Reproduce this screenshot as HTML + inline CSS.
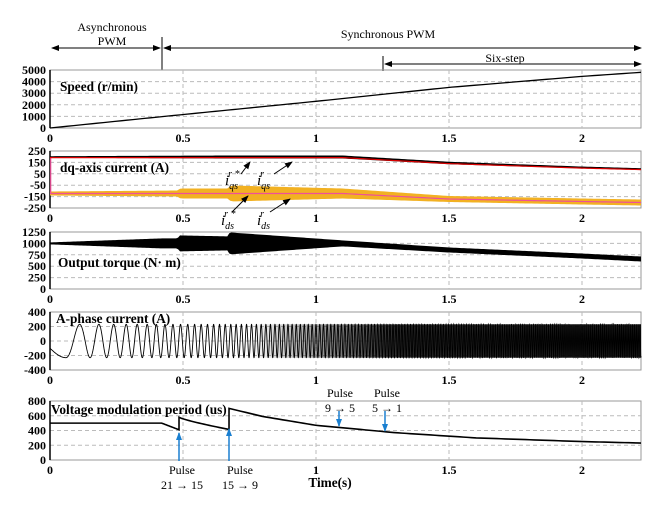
<!DOCTYPE html>
<html><head><meta charset="utf-8"><style>
body{margin:0;background:#fff}
svg{display:block}
text{font-family:"Liberation Serif",serif}
.t{font-weight:bold;font-size:12px;fill:#000}
.l{font-weight:bold;font-size:13.3px;fill:#000}
.a{font-size:12px;fill:#000}
</style></head><body>
<svg id="s" width="663" height="513" viewBox="0 0 663 513" xmlns="http://www.w3.org/2000/svg">
<defs>
<marker id="ah" markerWidth="8" markerHeight="8" refX="7" refY="4" orient="auto" markerUnits="userSpaceOnUse"><path d="M0,1 L8,4 L0,7 Z" fill="#000"/></marker>
<marker id="bh" markerWidth="8" markerHeight="8" refX="7" refY="4" orient="auto" markerUnits="userSpaceOnUse"><path d="M0,1 L8,4 L0,7 Z" fill="#1a7fd0"/></marker>
</defs>
<text class="a" x="112" y="31" text-anchor="middle" font-size="13">Asynchronous</text>
<text class="a" x="112" y="45" text-anchor="middle" font-size="13">PWM</text>
<text class="a" x="388" y="38" text-anchor="middle" font-size="13">Synchronous PWM</text>
<text class="a" x="505" y="62" text-anchor="middle" font-size="13">Six-step</text>
<line x1="162" y1="37" x2="162" y2="70" stroke="#000"/>
<line x1="383" y1="56" x2="383" y2="71" stroke="#000"/>
<line x1="158" y1="48" x2="52" y2="48" stroke="#000" marker-end="url(#ah)"/>
<line x1="60" y1="48" x2="160" y2="48" stroke="#000" marker-end="url(#ah)"/>
<line x1="172" y1="48" x2="164" y2="48" stroke="#000" marker-end="url(#ah)"/>
<line x1="170" y1="48" x2="641" y2="48" stroke="#000" marker-end="url(#ah)"/>
<line x1="392" y1="64" x2="385" y2="64" stroke="#000" marker-end="url(#ah)"/>
<line x1="390" y1="64" x2="641" y2="64" stroke="#000" marker-end="url(#ah)"/>
<g id="g"></g>
<text class="l" x="60" y="91">Speed (r/min)</text>
<text class="l" x="60" y="172">dq-axis current (A)</text>
<text class="l" x="58" y="267">Output torque (N· m)</text>
<text class="l" x="56" y="323">A-phase current (A)</text>
<text class="l" x="51" y="414">Voltage modulation period (us)</text>
<g font-style="italic" font-size="15" font-family="Liberation Serif,serif">
<text x="225" y="185">i<tspan font-size="10" dy="4">qs</tspan><tspan font-size="10" dx="-10" dy="-12">r *</tspan></text>
<text x="257" y="185">i<tspan font-size="10" dy="4">qs</tspan><tspan font-size="10" dx="-10" dy="-12">r</tspan></text>
<text x="221" y="225">i<tspan font-size="10" dy="4">ds</tspan><tspan font-size="10" dx="-10" dy="-12">r *</tspan></text>
<text x="257" y="225">i<tspan font-size="10" dy="4">ds</tspan><tspan font-size="10" dx="-10" dy="-12">r</tspan></text>
</g>
<line x1="241" y1="174" x2="250" y2="162" stroke="#000" marker-end="url(#ah)"/>
<line x1="274" y1="174" x2="292" y2="162" stroke="#000" marker-end="url(#ah)"/>
<line x1="232" y1="212" x2="248" y2="196" stroke="#000" marker-end="url(#ah)"/>
<line x1="270" y1="212" x2="290" y2="199" stroke="#000" marker-end="url(#ah)"/>
<line x1="179" y1="461" x2="179" y2="433" stroke="#1a7fd0" stroke-width="1.5" marker-end="url(#bh)"/>
<line x1="229" y1="461" x2="229" y2="429" stroke="#1a7fd0" stroke-width="1.5" marker-end="url(#bh)"/>
<line x1="339" y1="411" x2="339" y2="426" stroke="#1a7fd0" stroke-width="1.5" marker-end="url(#bh)"/>
<line x1="385" y1="411" x2="385" y2="431" stroke="#1a7fd0" stroke-width="1.5" marker-end="url(#bh)"/>
<text class="a" x="182" y="474" text-anchor="middle">Pulse</text>
<text class="a" x="182" y="489" text-anchor="middle">21 → 15</text>
<text class="a" x="240" y="474" text-anchor="middle">Pulse</text>
<text class="a" x="240" y="489" text-anchor="middle">15 → 9</text>
<text class="a" x="340" y="397" text-anchor="middle">Pulse</text>
<text class="a" x="340" y="412" text-anchor="middle">9 → 5</text>
<text class="a" x="387" y="397" text-anchor="middle">Pulse</text>
<text class="a" x="387" y="412" text-anchor="middle">5 → 1</text>
<text class="l" x="330" y="487" text-anchor="middle">Time(s)</text>
</svg>
<script>
var g=document.getElementById('g'),h='';
function X(t){return 50+266*t;}
var R=641;
function panel(top,bot,ticks,vmin,vmax,skipx){
  h+='<rect x="50" y="'+top+'" width="'+(R-50)+'" height="'+(bot-top)+'" fill="none" stroke="#999" stroke-width="1"/>';
  ticks.forEach(function(v){var y=bot-(v-vmin)/(vmax-vmin)*(bot-top);
    if(y>top+1&&y<bot-1)h+='<line x1="50" x2="'+R+'" y1="'+y+'" y2="'+y+'" stroke="#bbb" stroke-dasharray="4,3"/>';
    h+='<text class="t" x="46" y="'+(y+4)+'" text-anchor="end">'+v+'</text>';});
  [0.5,1,1.5,2].forEach(function(t){h+='<line x1="'+X(t)+'" x2="'+X(t)+'" y1="'+top+'" y2="'+bot+'" stroke="#bbb" stroke-dasharray="4,3"/>';});
  h+='<line x1="50" x2="50" y1="'+top+'" y2="'+bot+'" stroke="#000" stroke-width="1.5"/>';
  [0,0.5,1,1.5,2].forEach(function(t){if(skipx&&skipx.indexOf(t)>=0)return;h+='<text class="t" x="'+X(t)+'" y="'+(bot+14)+'" text-anchor="middle">'+t+'</text>';});
}
panel(70,128,[0,1000,2000,3000,4000,5000],0,5000);
panel(151,208,[-250,-150,-50,50,150,250],-250,250);
panel(232,289,[0,250,500,750,1000,1250],0,1250);
panel(312,370,[-400,-200,0,200,400],-400,400);
panel(401,460,[0,200,400,600,800],0,800,[0.5]);
function lerp(pts,t){for(var i=1;i<pts.length;i++){if(t<=pts[i][0]){var a=pts[i-1],b=pts[i];return a[1]+(b[1]-a[1])*(t-a[0])/(b[0]-a[0]);}}return pts[pts.length-1][1];}
var T=(R-50)/266,i,t,d;
d='';for(i=0;i<=100;i++){t=T*i/100;d+=(i?'L':'M')+X(t)+','+(128-lerp([[0,0],[0.43,1000],[1,2300],[1.5,3500],[2,4450],[T,4800]],t)*58/5000);}
h+='<path d="'+d+'" fill="none" stroke="#000" stroke-width="1.3"/>';
var iq=[[0,157],[1.1,157],[1.5,163],[2,167.5],[T,169]],id=[[0,193.5],[1.1,193.5],[1.5,199],[2,201.5],[T,202.5]];
var wd=[[0,2],[0.48,3],[0.49,5],[0.67,5],[0.68,8],[1.1,5],[1.5,3],[T,3]];
var up='',dn='';for(i=0;i<=200;i++){t=T*i/200;var c=lerp(id,t),w=lerp(wd,t);up+=(i?'L':'M')+X(t)+','+(c-w);dn='L'+X(t)+','+(c+w)+dn;}
h+='<path d="'+up+dn+'Z" fill="#f2b122"/>';
d='';for(i=0;i<=200;i++){t=T*i/200;d+=(i?'L':'M')+X(t)+','+lerp(id,t);}
h+='<path d="M50.7,157 L50.7,193.5 '+d.replace('M','L')+'" fill="none" stroke="#ee4f9a" stroke-width="1.2"/>';
up='';dn='';var wq=[[0,0.8],[0.68,1.5],[1.1,1.5],[T,0.8]];
for(i=0;i<=200;i++){t=T*i/200;var c=lerp(iq,t),w=lerp(wq,t);up+=(i?'L':'M')+X(t)+','+(c-w);dn='L'+X(t)+','+(c+w)+dn;}
h+='<path d="'+up+dn+'Z" fill="#000"/>';
d='';for(i=0;i<=200;i++){t=T*i/200;d+=(i?'L':'M')+X(t)+','+(lerp(iq,t)+0.6);}
h+='<path d="'+d+'" fill="none" stroke="#d00" stroke-width="1.2"/>';
var tq=[[0,243.4],[1.1,243.4],[1.5,250],[2,256],[T,259]],tw=[[0,1],[0.42,5],[0.48,5],[0.485,8],[0.67,7],[0.675,11],[1.1,3],[1.5,2.5],[T,2.5]];
up='';dn='';for(i=0;i<=300;i++){t=T*i/300;var c=lerp(tq,t),w=lerp(tw,t);up+=(i?'L':'M')+X(t)+','+(c-w);dn='L'+X(t)+','+(c+w)+dn;}
h+='<path d="'+up+dn+'Z" fill="#000"/>';
// A-phase
d='';var ph=0,dt=T/8000;
for(i=0;i<=8000;i++){t=i*dt;var v;
 if(t<0.06){v=-100-130*Math.sin(Math.PI/2*t/0.06);}
 else{var f=lerp([[0.06,8],[0.15,14],[0.43,32],[1,70],[2,135],[T,145]],t);ph+=2*Math.PI*f*dt;v=-230*Math.cos(ph);}
 d+=(i?'L':'M')+X(t).toFixed(2)+','+(341-v*29/400).toFixed(2);}
h+='<path d="'+d+'" fill="none" stroke="#000" stroke-width="0.9"/>';
h+='<defs><linearGradient id="dk" x1="0" x2="1"><stop offset="0" stop-color="#000" stop-opacity="0"/><stop offset="1" stop-color="#000" stop-opacity="0.85"/></linearGradient></defs>';
h+='<rect x="'+X(0.75)+'" y="'+(341-16.7)+'" width="'+(X(1.3)-X(0.75))+'" height="33.4" fill="url(#dk)"/>';
h+='<rect x="'+X(1.3)+'" y="'+(341-16.7)+'" width="'+(R-X(1.3))+'" height="33.4" fill="#000" fill-opacity="0.85"/>';
function vy(v){return 460-v*59/800;}
d='M50,'+vy(500)+'L'+X(0.42)+','+vy(500);
for(i=0;i<=20;i++){t=0.42+0.065*i/20;d+='L'+X(t)+','+vy(500-90*(i/20));}
d+='L'+X(0.485)+','+vy(580);
for(i=0;i<=20;i++){t=0.485+0.188*i/20;d+='L'+X(t)+','+vy(580-165*Math.pow(i/20,0.8));}
d+='L'+X(0.673)+','+vy(700);
for(i=0;i<=100;i++){t=0.673+(T-0.673)*i/100;d+='L'+X(t)+','+vy(lerp([[0.673,700],[0.8,590],[1,470],[1.3,370],[1.6,300],[2,250],[T,230]],t));}
h+='<path d="'+d+'" fill="none" stroke="#000" stroke-width="1.6"/>';
g.innerHTML=h;
</script>
</body></html>
